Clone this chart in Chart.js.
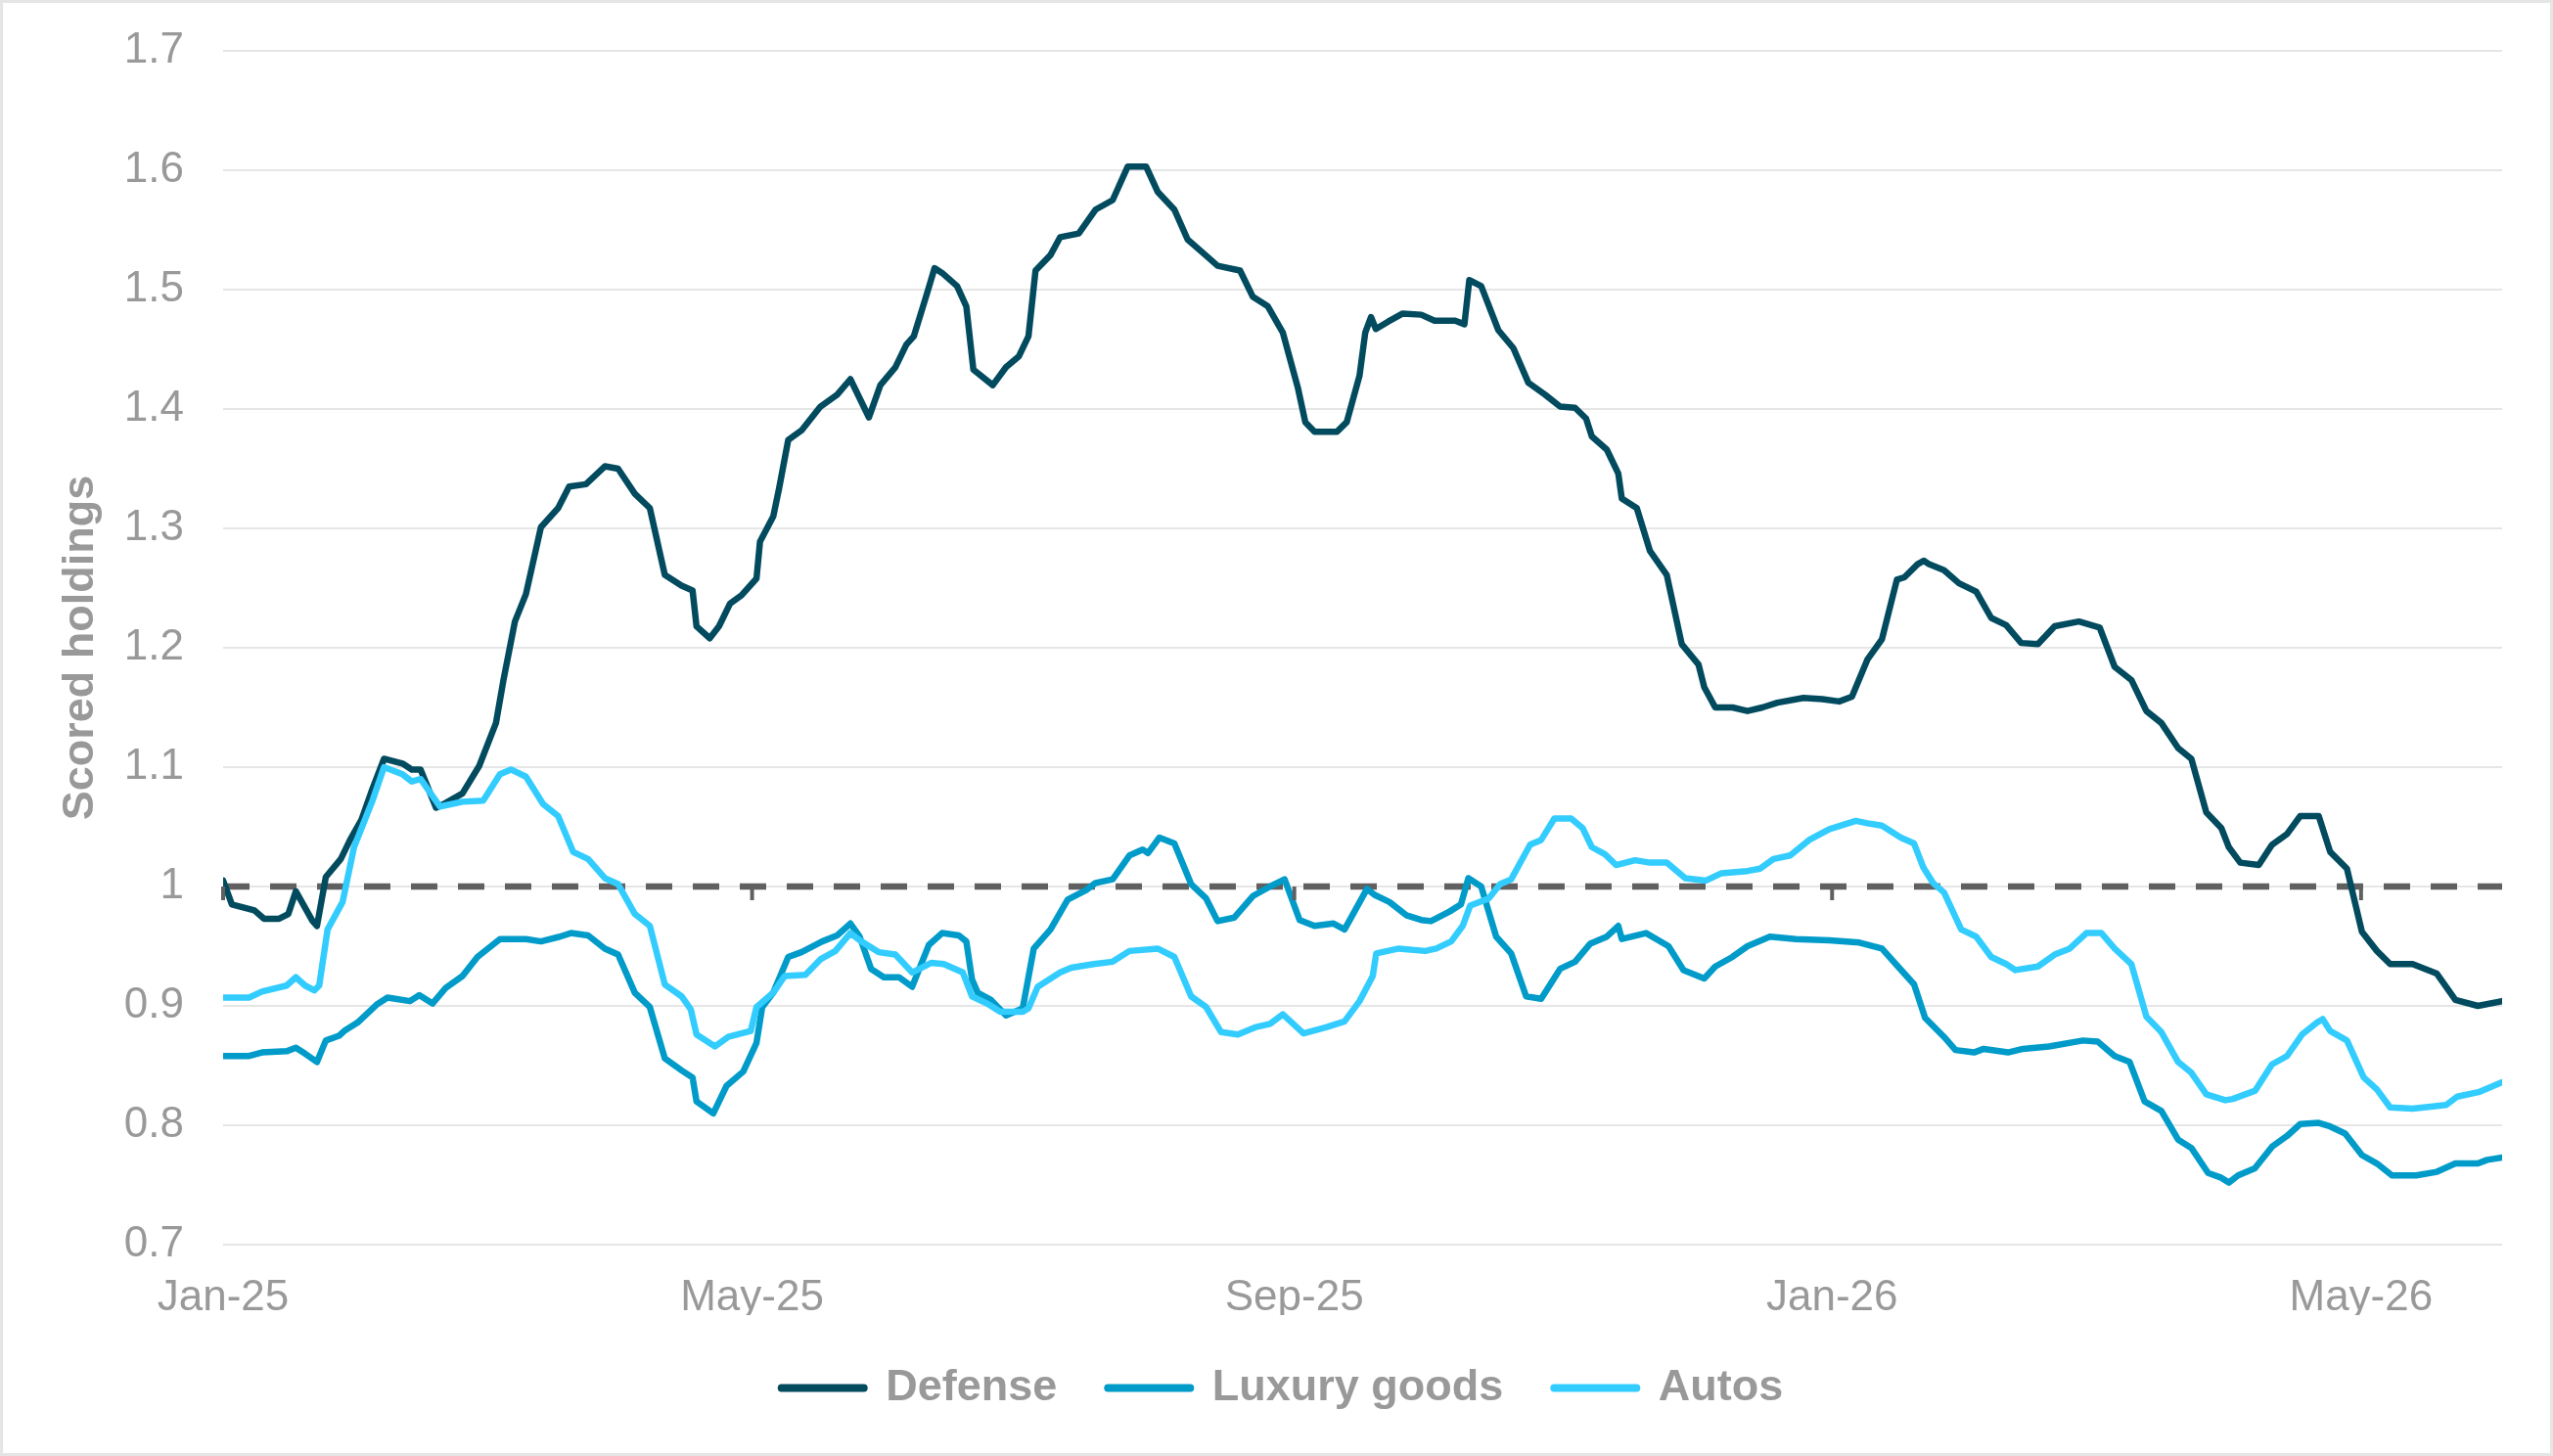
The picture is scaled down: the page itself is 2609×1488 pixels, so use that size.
<!DOCTYPE html>
<html><head><meta charset="utf-8">
<script src="https://cdn.jsdelivr.net/npm/chart.js@4.4.1/dist/chart.umd.min.js"></script>
<style>
html,body{margin:0;padding:0;background:#fff;}
#wrap{position:relative;width:2609px;height:1488px;}
#frame{position:absolute;left:0;top:0;width:2609px;height:1488px;box-sizing:border-box;border:3px solid #e5e5e5;pointer-events:none;}
canvas{display:block;}
</style></head><body>
<div id="wrap"><canvas id="c" width="2609" height="1488"></canvas><div id="frame"></div></div>
<script>
// x values are day numbers counted from 1 Jan 2025
const defenseDays = [0,2,7.1,9.3,12.7,14.8,16.5,20.3,21.3,23.3,26.7,28.8,31.4,33.9,36.5,40.7,42.8,44.8,48.3,50.5,54.3,58.1,61.9,63.6,66.2,68.7,72.1,76,78.5,82.3,86.6,89.6,93.4,96.8,100.2,104,106.5,107.4,110.4,112.5,115,117.6,121,121.8,124.8,126.1,128.2,131.2,135.5,139.3,142.3,146.5,149.1,152.5,155,156.7,159.7,161.4,163.1,166.5,168.6,170.2,174.6,177.6,180.5,182.7,184.3,187.7,189.9,194.1,197.9,201.8,205.2,209.4,212,215.8,218.8,222.2,225.6,230.7,233.6,237,240.4,243.8,245.5,247.6,252.7,254.9,257.8,259.1,260.4,261.5,264.2,267.6,271.8,274.8,279.5,281.6,282.7,285.4,289.3,292.7,296.1,299.9,303.3,306.7,309.2,310.5,313.9,316.5,317.3,320.7,323.7,327.5,330.9,334.7,336,338.5,342.4,345.8,349.2,352.6,358.5,362.8,366.6,369.5,373,376.3,379.7,381.4,384.4,385.8,387,390.4,393.8,397.7,401.1,404.5,407.9,411.7,415.5,421,425.7,429.1,432.9,436.3,439.7,443.5,446.5,449.9,453.3,455,457.6,461.8,464.8,468.2,471.2,475.4,478,481.8,485.2,488.6,491.6,496.7,502.2,506.4,511.5,517];
const defenseValues = [1.005,0.985,0.980,0.973,0.973,0.977,0.996,0.971,0.967,1.008,1.023,1.039,1.056,1.082,1.107,1.103,1.098,1.098,1.066,1.070,1.078,1.101,1.137,1.173,1.222,1.245,1.301,1.317,1.335,1.337,1.352,1.350,1.329,1.317,1.261,1.252,1.248,1.218,1.208,1.218,1.237,1.244,1.258,1.289,1.310,1.333,1.374,1.382,1.402,1.412,1.425,1.393,1.420,1.435,1.454,1.461,1.497,1.518,1.514,1.503,1.486,1.433,1.420,1.435,1.444,1.461,1.516,1.529,1.544,1.547,1.567,1.575,1.603,1.603,1.582,1.567,1.542,1.531,1.520,1.516,1.494,1.486,1.464,1.418,1.389,1.381,1.381,1.389,1.428,1.464,1.477,1.467,1.473,1.480,1.479,1.474,1.474,1.471,1.508,1.503,1.466,1.451,1.422,1.412,1.402,1.401,1.392,1.377,1.366,1.346,1.325,1.317,1.281,1.261,1.203,1.186,1.167,1.150,1.150,1.147,1.150,1.154,1.158,1.157,1.155,1.159,1.190,1.207,1.257,1.259,1.270,1.273,1.270,1.265,1.254,1.247,1.225,1.219,1.204,1.203,1.218,1.222,1.217,1.184,1.173,1.147,1.137,1.116,1.107,1.062,1.049,1.033,1.020,1.018,1.035,1.044,1.059,1.059,1.029,1.015,0.962,0.946,0.935,0.935,0.927,0.905,0.900,0.904];

const luxuryDays = [0,5.9,8.8,14.4,16.5,18.6,21.3,23.3,26.3,27.5,30.5,34.8,37.3,42.4,44.5,47.5,50.5,54.3,57.7,62.8,68.7,72.1,76.4,78.9,82.8,86.6,89.6,93.4,96.8,100.2,104,106.5,107.4,111.2,114.2,118,121,122.3,124.8,128.2,131.2,135.9,139.3,142.3,144.4,147,149.9,153.3,156.3,160.1,163.1,166.9,168.6,169.9,171.2,174.2,177.6,181.4,183.9,187.7,191.6,195.8,197.9,201.8,205.6,208.6,209.8,212.4,215.8,219.6,223,225.6,229.4,233.6,237.5,240.8,244.2,247.6,251.9,254.4,259.5,261.2,264.6,268.4,271.8,274,278.2,280.8,282.5,285.4,288.8,292.2,295.6,299,303.3,306.7,310.1,313.9,316.5,317.3,322.8,327.9,331.3,336,338.5,342.4,345.8,350.9,356.8,364.4,371.2,376.3,380.2,383.6,386.1,390.4,393,397.2,399.4,404.9,408.3,414.2,421.9,425.3,429.1,432.5,435.9,439.7,443.5,446.5,450.3,453.3,455,457.1,460.9,464.8,468.2,471.2,475.4,478,481.4,485.2,488.6,492,497.5,502.2,506.4,511.5,513.6,517];
const luxuryValues = [0.858,0.858,0.861,0.862,0.865,0.860,0.853,0.871,0.875,0.879,0.886,0.901,0.907,0.904,0.909,0.902,0.915,0.925,0.941,0.956,0.956,0.954,0.958,0.961,0.959,0.948,0.943,0.911,0.899,0.856,0.846,0.840,0.820,0.810,0.833,0.845,0.869,0.899,0.911,0.941,0.945,0.954,0.959,0.969,0.958,0.931,0.924,0.924,0.916,0.951,0.961,0.959,0.954,0.922,0.911,0.905,0.892,0.898,0.948,0.964,0.989,0.997,1.003,1.006,1.026,1.031,1.028,1.041,1.036,1.002,0.990,0.971,0.974,0.992,1.000,1.006,0.972,0.967,0.969,0.964,0.998,0.993,0.987,0.976,0.972,0.971,0.979,0.985,1.007,1.000,0.958,0.944,0.908,0.906,0.931,0.937,0.952,0.958,0.967,0.956,0.961,0.950,0.930,0.923,0.933,0.941,0.950,0.958,0.956,0.955,0.953,0.948,0.932,0.918,0.890,0.874,0.863,0.861,0.864,0.861,0.864,0.866,0.871,0.870,0.858,0.853,0.820,0.812,0.788,0.781,0.760,0.756,0.752,0.758,0.764,0.782,0.791,0.801,0.802,0.799,0.793,0.775,0.768,0.758,0.758,0.761,0.768,0.768,0.771,0.773];

const autosDays = [0,5.9,8.8,14.4,16.5,18.6,20.7,21.8,23.7,27.1,29.7,33.9,36.5,40.7,42.8,44.8,49.2,54.3,59,62.8,65.3,68.7,72.6,76,79.4,82.8,86.6,89.6,93.4,96.8,100.2,104,106.1,107.4,111.6,114.6,119.7,121,124.8,127.4,132.1,135.5,138.9,142.3,144.8,148.7,152.5,156.3,160.6,163.5,167.8,169.9,173.3,176.3,181.4,182.7,184.8,189.9,192.4,197.5,201.8,205.6,212,215.8,219.6,223,226.4,230.2,234.1,237.5,240.4,245.1,250.2,254.4,257.8,260.8,261.6,266.7,272.7,275.2,278.6,281.2,282.9,287.1,289.7,292.2,296.5,299,302,305.8,308.4,310.5,313.5,316,320.3,323.7,327.5,331.7,336.4,339.8,345.8,348.7,351.7,355.5,359.8,364.4,370.4,373,376.3,380.6,383.6,385.7,387.9,390.4,394.3,397.7,401.1,404.5,406.6,411.7,415.5,418.9,422.7,426.1,429.1,432.9,436.3,439.7,443.5,446.5,449.9,454.2,455.9,461,464.8,468.2,471.6,475,476.3,478,481.8,485.6,488.6,491.6,496.7,504.3,506.8,511.9,517];
const autosValues = [0.907,0.907,0.912,0.917,0.924,0.917,0.913,0.917,0.964,0.987,1.033,1.072,1.100,1.094,1.088,1.090,1.067,1.071,1.072,1.094,1.098,1.092,1.069,1.059,1.029,1.023,1.007,1.002,0.977,0.967,0.918,0.908,0.897,0.876,0.866,0.874,0.879,0.899,0.911,0.925,0.926,0.939,0.946,0.961,0.954,0.945,0.943,0.928,0.936,0.935,0.928,0.908,0.902,0.895,0.895,0.898,0.916,0.928,0.932,0.935,0.937,0.946,0.948,0.941,0.908,0.899,0.878,0.876,0.882,0.885,0.893,0.877,0.882,0.887,0.904,0.925,0.944,0.948,0.946,0.948,0.954,0.967,0.984,0.990,1.002,1.006,1.035,1.039,1.057,1.057,1.049,1.033,1.027,1.018,1.022,1.020,1.020,1.007,1.005,1.011,1.013,1.015,1.023,1.026,1.039,1.048,1.055,1.053,1.051,1.041,1.036,1.016,1.003,0.995,0.964,0.958,0.941,0.935,0.930,0.933,0.943,0.948,0.961,0.961,0.948,0.935,0.891,0.878,0.853,0.844,0.826,0.821,0.822,0.829,0.851,0.858,0.876,0.886,0.889,0.879,0.871,0.840,0.830,0.815,0.814,0.817,0.824,0.828,0.836];

const seriesNames = ['Defense', 'Luxury goods', 'Autos'];
const referenceLevel = 1;
const firstDay = 0;
const lastDay = 517;
const xTickDays = [0, 120, 243, 365, 485];
const xTickLabels = ['Jan-25', 'May-25', 'Sep-25', 'Jan-26', 'May-26'];
const yTickValues = [0.7, 0.8, 0.9, 1.0, 1.1, 1.2, 1.3, 1.4, 1.5, 1.6, 1.7];
const yTickLabels = ['0.7', '0.8', '0.9', '1', '1.1', '1.2', '1.3', '1.4', '1.5', '1.6', '1.7'];
const yAxisTitle = 'Scored holdings';

const pts = (xs, ys) => xs.map((x, i) => ({x: x, y: ys[i]}));
const FONT = "'Liberation Sans', Arial, sans-serif";
const GREY = '#999999';
Chart.defaults.font.family = FONT;

const axisTicks = {
  id: 'axisTicks',
  afterLayout(chart) {
    if (chart.legend) { chart.legend.left += 12; chart.legend.right += 12; }
  },
  afterDatasetsDraw(chart) {
    const {ctx, scales: {x, y}} = chart;
    const y0 = y.getPixelForValue(referenceLevel);
    ctx.save();
    ctx.strokeStyle = '#606060';
    ctx.lineWidth = 4;
    xTickDays.forEach(d => {
      const px = x.getPixelForValue(d);
      ctx.beginPath();
      ctx.moveTo(px, y0);
      ctx.lineTo(px, y0 + 14);
      ctx.stroke();
    });
    ctx.restore();
  }
};

const lineStyle = {pointRadius: 0, borderWidth: 6.5, tension: 0, borderJoinStyle: 'round', borderCapStyle: 'round', fill: false};

new Chart(document.getElementById('c'), {
  type: 'line',
  data: {
    datasets: [
      Object.assign({label: seriesNames[0], data: pts(defenseDays, defenseValues), borderColor: '#024B5F', backgroundColor: '#024B5F', order: 3}, lineStyle),
      Object.assign({label: seriesNames[1], data: pts(luxuryDays, luxuryValues), borderColor: '#009BC9', backgroundColor: '#009BC9', order: 2}, lineStyle),
      Object.assign({label: seriesNames[2], data: pts(autosDays, autosValues), borderColor: '#33CCFF', backgroundColor: '#33CCFF', order: 1}, lineStyle),
      {label: 'ref', data: [{x: firstDay, y: referenceLevel}, {x: lastDay, y: referenceLevel}], borderColor: '#606060', borderWidth: 6.5, borderDash: [27, 21], borderCapStyle: 'butt', pointRadius: 0, order: 4}
    ]
  },
  options: {
    responsive: false,
    devicePixelRatio: 1,
    animation: false,
    layout: {padding: {left: 40, right: 52, top: 52, bottom: 37}},
    plugins: {
      tooltip: {enabled: false},
      legend: {
        position: 'bottom',
        labels: {
          usePointStyle: true,
          pointStyleWidth: 84,
          padding: 52,
          color: GREY,
          font: {size: 45, weight: 'bold', family: FONT},
          generateLabels(chart) {
            const items = Chart.defaults.plugins.legend.labels.generateLabels(chart);
            return items.filter(i => i.datasetIndex < 3)
              .sort((a, b) => a.datasetIndex - b.datasetIndex)
              .map(i => Object.assign(i, {pointStyle: 'line', lineWidth: 8, lineCap: 'round', fontColor: GREY}));
          }
        }
      }
    },
    scales: {
      x: {
        type: 'linear',
        min: firstDay,
        max: lastDay,
        grid: {display: false, drawTicks: false},
        border: {display: false},
        afterBuildTicks(s) { s.ticks = xTickDays.map(v => ({value: v})); },
        afterFit(s) { s.height = 72; },
        ticks: {
          color: GREY,
          padding: 28,
          maxRotation: 0,
          autoSkip: false,
          font: {size: 44, family: FONT},
          callback(v) { const i = xTickDays.indexOf(v); return i >= 0 ? xTickLabels[i] : ''; }
        }
      },
      y: {
        min: 0.7,
        max: 1.7,
        grid: {color: '#E6E6E6', lineWidth: 2, drawTicks: false},
        border: {display: false},
        afterBuildTicks(s) { s.ticks = yTickValues.map(v => ({value: v})); },
        afterFit(s) { s.width = 188; s.paddingTop = 0; s.paddingBottom = 0; },
        title: {display: true, text: yAxisTitle, color: GREY, font: {size: 45, weight: 'bold', family: FONT}, padding: {top: 16, bottom: 0}},
        ticks: {
          color: GREY,
          padding: 40,
          font: {size: 44, family: FONT},
          callback(v) { const i = yTickValues.findIndex(t => Math.abs(t - v) < 1e-9); return i >= 0 ? yTickLabels[i] : ''; }
        }
      }
    }
  },
  plugins: [axisTicks]
});
</script>
</body></html>
